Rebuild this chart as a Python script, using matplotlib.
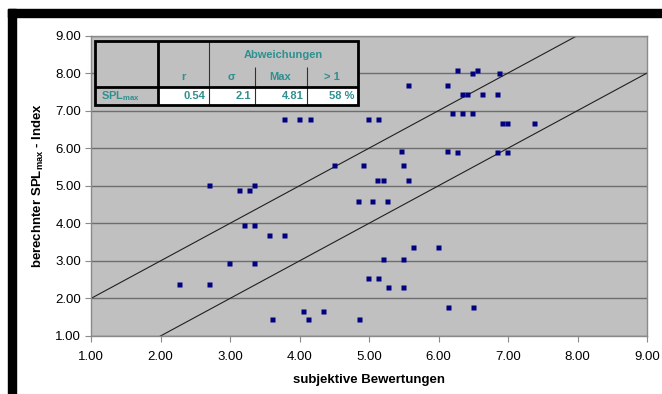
import matplotlib
matplotlib.use('Agg')
import matplotlib.pyplot as plt
from matplotlib.patches import Rectangle
import numpy as np

plt.rcParams['font.family'] = ['Liberation Sans', 'DejaVu Sans']
plt.rcParams['mathtext.fontset'] = 'custom'
plt.rcParams['mathtext.rm'] = 'Liberation Sans'
plt.rcParams['mathtext.bf'] = 'Liberation Sans:bold'

# subjective rating vs computed SPLmax index
subj = [6.26, 6.56, 6.48, 6.87, 5.56, 6.12, 6.34, 6.41, 6.63, 6.84,
        6.19, 6.34, 6.48, 3.77, 3.99, 4.15, 4.99, 5.13, 6.91, 6.99, 7.38,
        5.46, 6.12, 6.26, 6.84, 6.99, 4.49, 4.92, 5.49, 5.12, 5.20, 5.56,
        2.70, 3.35, 3.13, 3.27, 4.84, 5.05, 5.26, 3.20, 3.35, 3.56, 3.77,
        5.63, 5.99, 5.20, 5.49, 2.98, 3.35, 4.99, 5.13, 2.26, 2.70,
        5.27, 5.49, 6.14, 6.50, 4.05, 4.34, 3.60, 4.12, 4.85]
index = [8.09, 8.09, 8.00, 8.00, 7.67, 7.67, 7.45, 7.45, 7.45, 7.45,
         6.95, 6.95, 6.95, 6.79, 6.79, 6.79, 6.79, 6.79, 6.66, 6.66, 6.66,
         5.92, 5.92, 5.91, 5.91, 5.91, 5.54, 5.54, 5.54, 5.14, 5.14, 5.14,
         5.01, 5.01, 4.90, 4.90, 4.59, 4.59, 4.59, 3.95, 3.95, 3.68, 3.68,
         3.36, 3.36, 3.06, 3.06, 2.95, 2.95, 2.55, 2.55, 2.38, 2.38,
         2.30, 2.30, 1.77, 1.77, 1.66, 1.66, 1.45, 1.45, 1.45]

band_x = [1, 9]
band_offset = 1.0

ticks = [1, 2, 3, 4, 5, 6, 7, 8, 9]

tbl_head = ['r', 'σ', 'Max', '> 1']
tbl_group = 'Abweichungen'
tbl_label = r'SPL$_{\mathbf{max}}$'
tbl_vals = ['0.54', '2.1', '4.81', '58 %']

teal = '#2E9090'

fig = plt.figure(figsize=(6.62, 3.94), dpi=100)
fig.patch.set_facecolor('white')
ax = fig.add_axes([91/662, 58/394, 556/662, 300.5/394])
ax.set_facecolor('#C0C0C0')

# black frame bits (top + left)
fig.patches.append(Rectangle((8/662, 377/394), 1, 8/394, transform=fig.transFigure,
                             color='black', zorder=0))
fig.patches.append(Rectangle((8/662, 0), 8/662, 385/394, transform=fig.transFigure,
                             color='black', zorder=0))

ax.set_xlim(1, 9)
ax.set_ylim(1, 9)
ax.set_xticks(ticks)
ax.set_yticks(ticks)
ax.set_xticklabels(['%.2f' % t for t in ticks])
ax.set_yticklabels(['%.2f' % t for t in ticks])
ax.yaxis.grid(True, color='#6E6E6E', lw=1.0)
ax.set_axisbelow(True)
for s in ax.spines.values():
    s.set_color('#8A8A8A')
    s.set_linewidth(1.0)
ax.tick_params(axis='x', length=4, color='#8A8A8A', pad=7, labelsize=9.5)
ax.tick_params(axis='y', length=4, color='#8A8A8A', pad=3, labelsize=9.5)

# tolerance lines y = x +/- 1
bx = np.array(band_x, dtype=float)
ax.plot(bx, bx + band_offset, color='#202020', lw=0.8, zorder=2)
ax.plot(bx, bx - band_offset, color='#202020', lw=0.8, zorder=2)

ax.plot(subj, index, 's', color='#000080', ms=3.6, mec='none', zorder=3)

ax.set_xlabel('subjektive Bewertungen', fontsize=9.5, fontweight='bold', labelpad=8)
ax.set_ylabel(r'berechnter SPL$_{\mathbf{max}}$ - Index', fontsize=9.5,
              fontweight='bold', labelpad=7)

# little stats table in the corner
cx = [0.0072, 0.1205, 0.2122, 0.2941, 0.3876, 0.4802]
ry = [0.7687, 0.8276, 0.8962, 0.9817]
T = ax.transAxes
kw = dict(transform=T, clip_on=False, zorder=5)
ax.add_patch(Rectangle((cx[0], ry[1]), cx[5]-cx[0], ry[3]-ry[1], fc='#C0C0C0', ec='none', **kw))
ax.add_patch(Rectangle((cx[0], ry[0]), cx[1]-cx[0], ry[1]-ry[0], fc='#C0C0C0', ec='none', **kw))
ax.add_patch(Rectangle((cx[1], ry[0]), cx[5]-cx[1], ry[1]-ry[0], fc='white', ec='none', **kw))
lk = dict(transform=T, clip_on=False, zorder=6, solid_capstyle='butt')
ax.plot([cx[2], cx[2]], [ry[0], ry[3]], color='#303030', lw=0.8, **lk)
for c in cx[3:5]:
    ax.plot([c, c], [ry[0], ry[2]], color='#303030', lw=0.8, **lk)
ax.plot([cx[1], cx[1]], [ry[0], ry[3]], color='black', lw=2, **lk)
ax.plot([cx[0], cx[5]], [ry[1], ry[1]], color='black', lw=2, **lk)
ax.add_patch(Rectangle((cx[0], ry[0]), cx[5]-cx[0], ry[3]-ry[0], fc='none', ec='black',
                       lw=2, transform=T, clip_on=False, zorder=7))

tk = dict(transform=T, color=teal, fontsize=8, fontweight='bold', zorder=8)
ax.text((cx[2]+cx[5])/2, (ry[2]+ry[3])/2 - 0.005, tbl_group, ha='center', va='center', **tk)
for i, h in enumerate(tbl_head):
    ax.text((cx[i+1]+cx[i+2])/2, (ry[1]+ry[2])/2, h, ha='center', va='center', **tk)
ax.text(cx[0]+0.011, (ry[0]+ry[1])/2, tbl_label, ha='left', va='center', **tk)
for i, v in enumerate(tbl_vals):
    ax.text(cx[i+2]-0.006, (ry[0]+ry[1])/2, v, ha='right', va='center', **tk)

fig.savefig('out.png', dpi=100)
